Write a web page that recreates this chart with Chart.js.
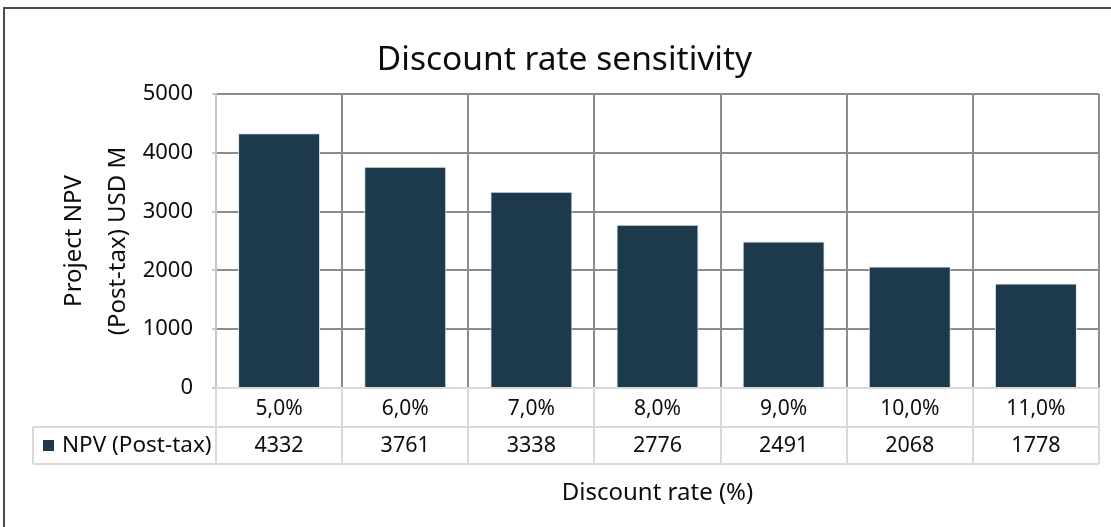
<!DOCTYPE html>
<html>
<head>
<meta charset="utf-8">
<script src="https://cdn.jsdelivr.net/npm/chart.js@4.4.1/dist/chart.umd.min.js"></script>
<style>
  html, body { margin: 0; padding: 0; background: #ffffff; }
  #wrap { position: relative; width: 1111px; height: 527px; }
</style>
</head>
<body>
<div id="wrap"><canvas id="npvChart"></canvas></div>
<script>
// Discount rates (x categories) and post-tax NPV values, USD M
const categories = ['5,0%', '6,0%', '7,0%', '8,0%', '9,0%', '10,0%', '11,0%'];
const npvPostTax = [4332, 3761, 3338, 2776, 2491, 2068, 1778];
const yTicks = [0, 1000, 2000, 3000, 4000, 5000];
const seriesName = 'NPV (Post-tax)';

const FONT = "'Noto Sans', 'Open Sans', sans-serif";
const BAR_COLOR = '#1d3a4d';
const GRID_DARK = '#8c8c8c';
const GRID_LIGHT = '#d9d9d9';
const TEXT = '#0d0d0d';
const PAD_LEFT = 30;

Chart.defaults.font.family = FONT;
Chart.defaults.color = TEXT;

// Frame around the whole chart plus the data table under the x axis
const dataTable = {
  id: 'dataTable',
  beforeDraw(chart) {
    const ctx = chart.ctx;
    ctx.save();
    ctx.fillStyle = '#ffffff';
    ctx.fillRect(0, 0, chart.width, chart.height);
    ctx.strokeStyle = '#4a4a4a';
    ctx.lineWidth = 2;
    ctx.strokeRect(4, 8, chart.width + 20, chart.height + 20);
    ctx.restore();
  },
  afterDraw(chart) {
    const ctx = chart.ctx;
    const x = chart.scales.x;
    const area = chart.chartArea;
    const n = categories.length;
    const cell = (area.right - area.left) / n;
    const rowTop = area.bottom;
    const rowMid = rowTop + 39;
    const rowBot = rowMid + 37;
    const legendLeft = 33;

    ctx.save();
    ctx.strokeStyle = GRID_LIGHT;
    ctx.lineWidth = 2;
    ctx.beginPath();
    // horizontal rules
    ctx.moveTo(area.left, rowTop); ctx.lineTo(area.right, rowTop);
    ctx.moveTo(legendLeft, rowMid); ctx.lineTo(area.right, rowMid);
    ctx.moveTo(legendLeft, rowBot); ctx.lineTo(area.right, rowBot);
    // vertical rules
    ctx.moveTo(legendLeft, rowMid); ctx.lineTo(legendLeft, rowBot);
    for (let i = 0; i <= n; i++) {
      const px = Math.round(area.left + i * cell);
      ctx.moveTo(px, rowTop); ctx.lineTo(px, rowBot);
    }
    ctx.stroke();

    // values row
    ctx.fillStyle = TEXT;
    ctx.font = `21.5px ${FONT}`;
    ctx.textAlign = 'center';
    ctx.textBaseline = 'middle';
    npvPostTax.forEach((v, i) => {
      ctx.fillText(String(v), x.getPixelForValue(i), (rowMid + rowBot) / 2);
    });

    // legend key
    ctx.fillStyle = BAR_COLOR;
    ctx.fillRect(43, 440, 11, 11);
    ctx.fillStyle = TEXT;
    ctx.font = `22.5px ${FONT}`;
    ctx.textAlign = 'left';
    ctx.fillText(seriesName, 62, (rowMid + rowBot) / 2);
    ctx.restore();
  }
};

new Chart(document.getElementById('npvChart'), {
  type: 'bar',
  data: {
    labels: categories,
    datasets: [{
      label: seriesName,
      data: npvPostTax,
      backgroundColor: BAR_COLOR,
      borderColor: '#dde3e8',
      borderWidth: 1,
      barPercentage: 0.65,
      categoryPercentage: 1.0
    }]
  },
  options: {
    responsive: true,
    maintainAspectRatio: false,
    animation: false,
    layout: { padding: { left: PAD_LEFT, right: 12, top: 0, bottom: 0 } },
    plugins: {
      legend: { display: false },
      tooltip: { enabled: false },
      title: {
        display: true,
        text: 'Discount rate sensitivity',
        color: TEXT,
        font: { size: 33.5, weight: 'normal', lineHeight: 1.2 },
        padding: { top: 40, bottom: 13.8 }
      }
    },
    scales: {
      x: {
        type: 'category',
        grid: {
          offset: true,
          drawTicks: false,
          lineWidth: 2,
          color: (c) => (c.index === 0 ? GRID_LIGHT : GRID_DARK)
        },
        border: { display: false },
        ticks: { font: { size: 21 }, padding: 8, color: TEXT, maxRotation: 0 },
        title: {
          display: true,
          text: 'Discount rate (%)',
          color: TEXT,
          font: { size: 24, lineHeight: 1.2 },
          padding: { top: 0, bottom: 19.6 }
        },
        afterFit(scale) { scale.height = 139; }
      },
      y: {
        min: 0,
        max: 5000,
        afterBuildTicks(scale) { scale.ticks = yTicks.map(v => ({ value: v })); },
        grid: {
          lineWidth: 2,
          tickLength: 4,
          tickColor: '#c8c8c8',
          color: (c) => (c.tick && c.tick.value === 0 ? GRID_LIGHT : GRID_DARK)
        },
        border: { display: true, color: '#c8c8c8', width: 2 },
        ticks: {
          font: { size: 22 },
          padding: 19,
          color: TEXT,
          callback: (v) => String(v)
        },
        title: {
          display: true,
          text: ['Project NPV', '(Post-tax) USD M'],
          color: TEXT,
          font: { size: 24, lineHeight: '44px' },
          padding: { top: 74 - 22 - PAD_LEFT, bottom: 0 }
        },
        afterFit(scale) { scale.width = 216 - PAD_LEFT; }
      }
    }
  },
  plugins: [dataTable]
});
</script>
</body>
</html>
